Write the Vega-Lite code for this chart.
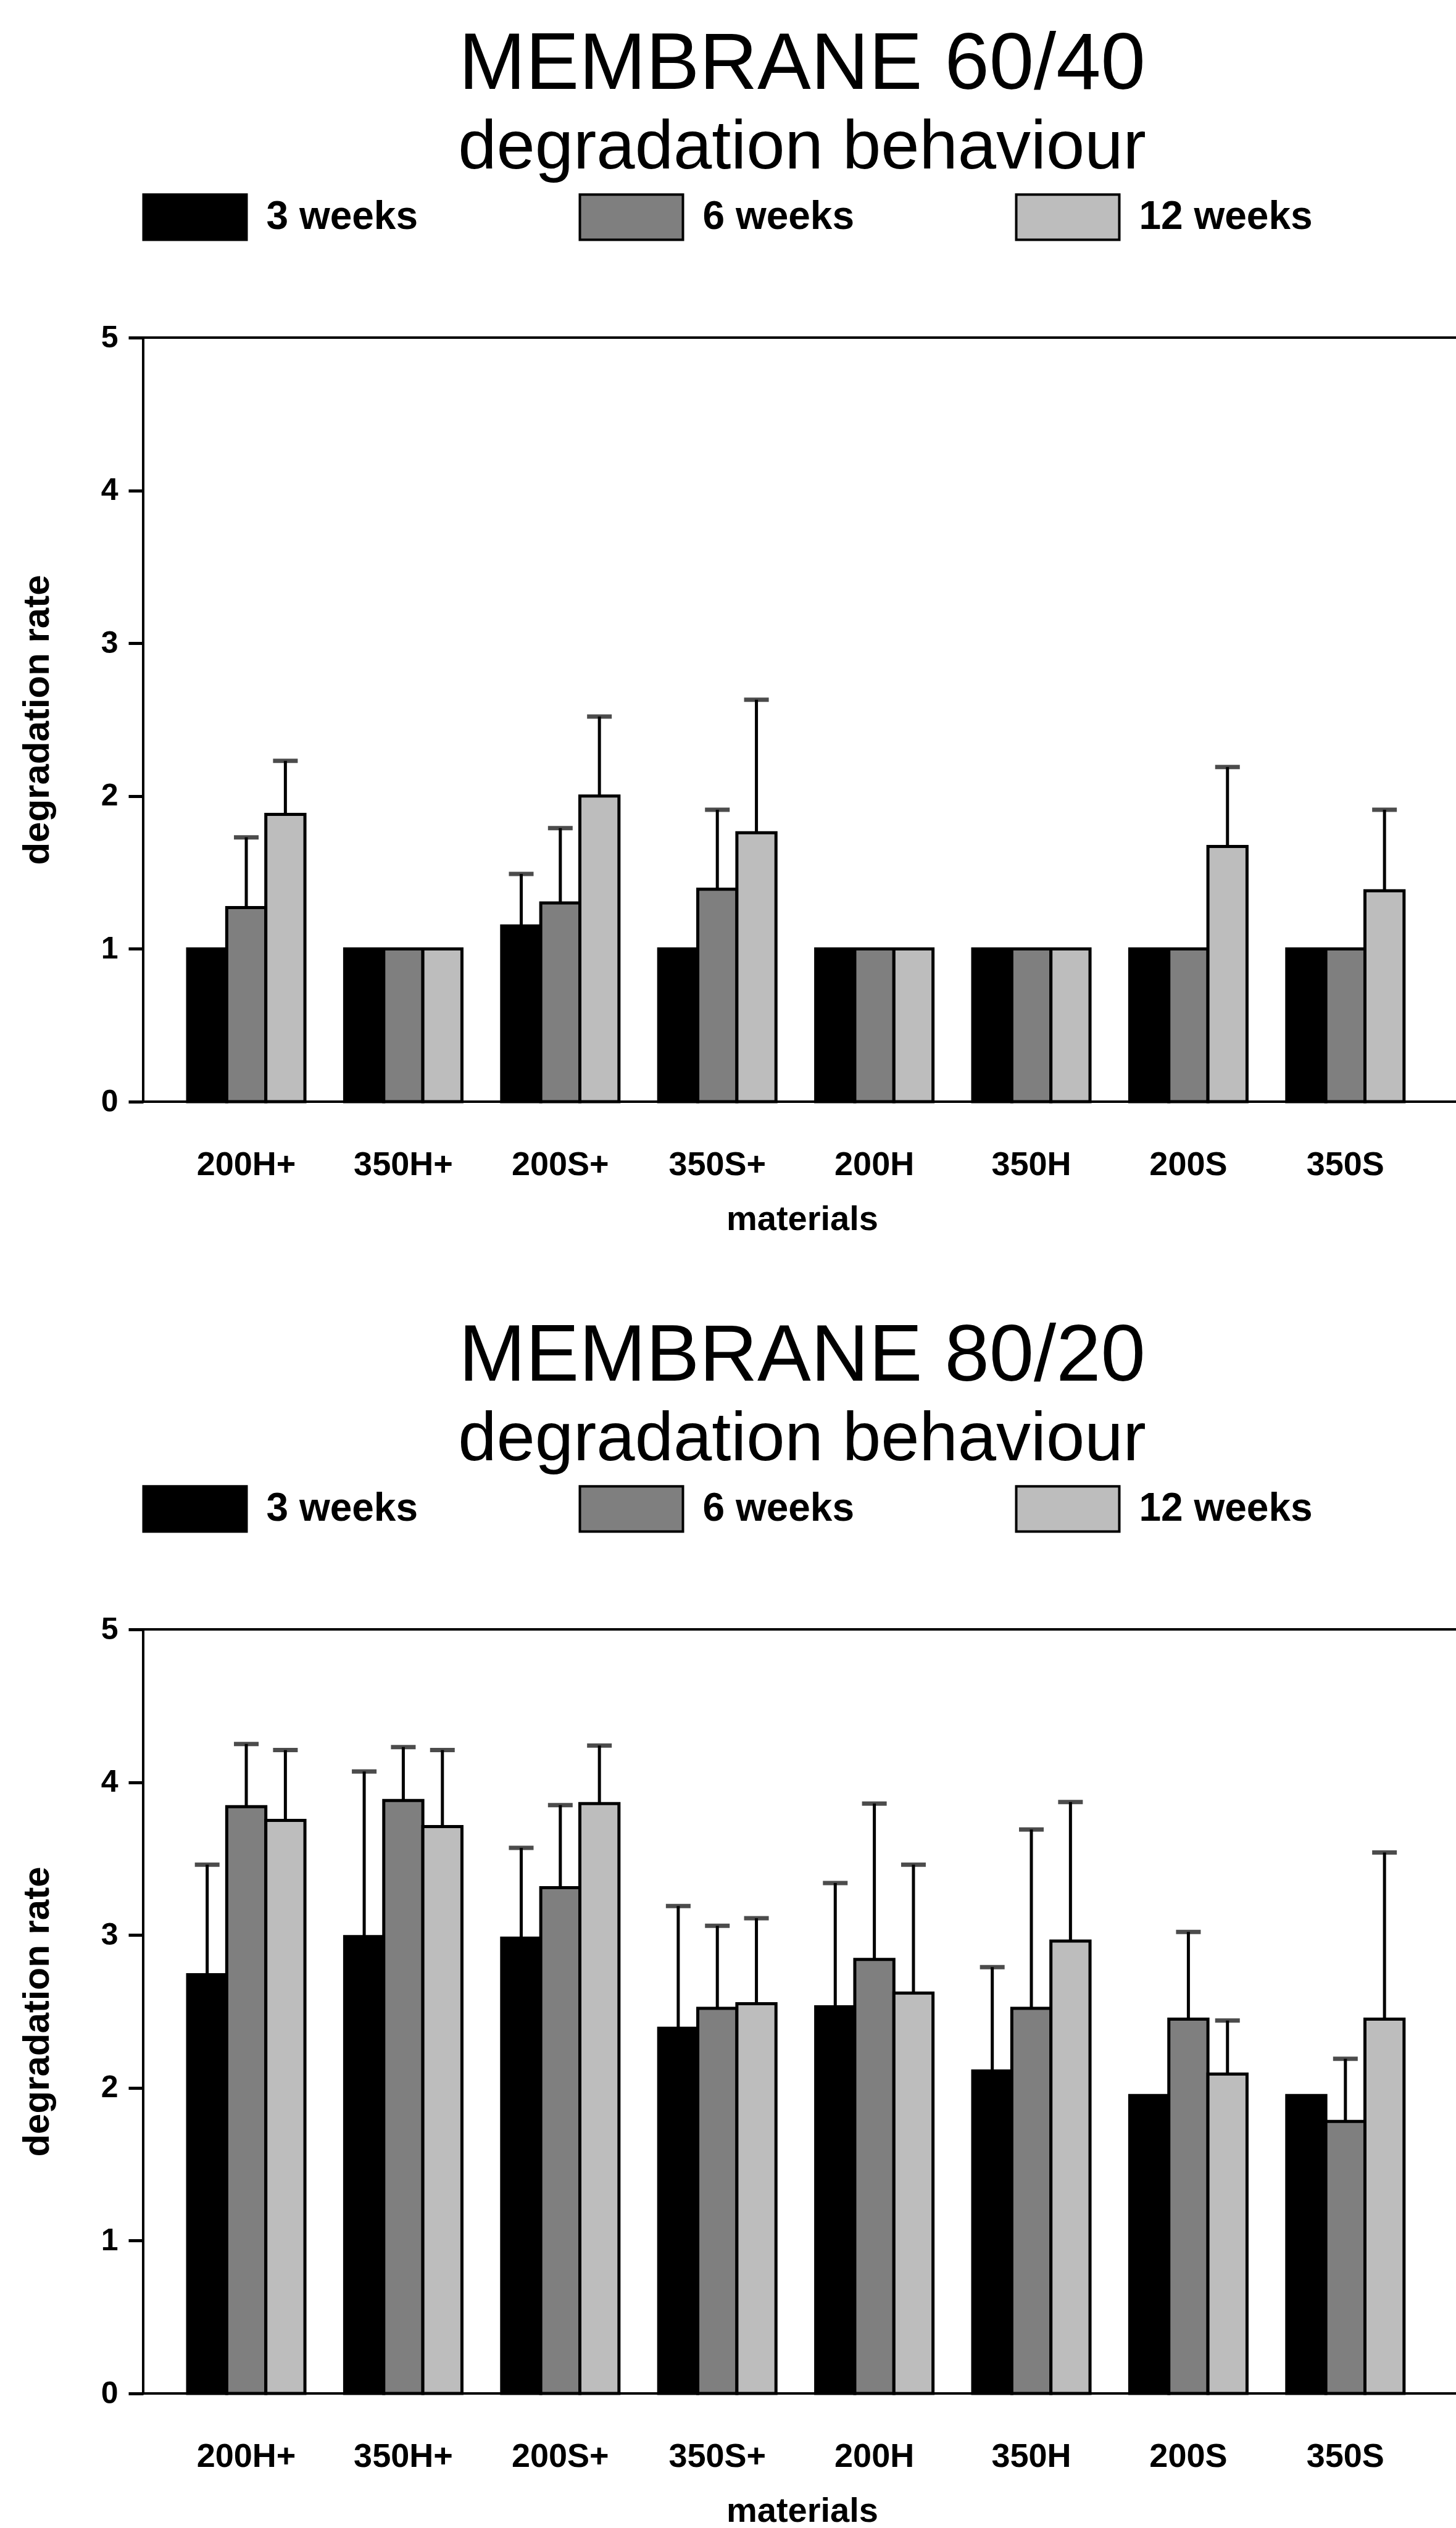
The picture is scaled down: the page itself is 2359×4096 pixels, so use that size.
{
  "$schema": "https://vega.github.io/schema/vega-lite/v6.json",
  "background": "white",
  "padding": {"left": 28, "top": 38, "right": 0, "bottom": 0},
  "spacing": 126,
  "config": {
    "font": "Liberation Sans",
    "view": {"stroke": "black", "strokeWidth": 4},
    "title": {
      "font": "Liberation Sans", "fontSize": 130, "fontWeight": "normal", "color": "black",
      "subtitleFont": "Liberation Sans", "subtitleFontSize": 112, "subtitleFontWeight": "normal", "subtitleColor": "black",
      "subtitlePadding": 14, "anchor": "middle", "offset": 20
    },
    "axisX": {"ticks": false, "tickSize": 0, "domain": false, "grid": false, "labelAngle": 0, "labelFontSize": 54, "labelFontWeight": "bold", "labelColor": "black", "labelPadding": 75, "titleFontSize": 56, "titleFontWeight": "bold", "titleColor": "black", "titlePadding": 34},
    "axisY": {"ticks": true, "tickSize": 24, "tickWidth": 5, "tickColor": "black", "tickOpacity": 1, "domain": false, "grid": false, "labelFontSize": 50, "labelFontWeight": "bold", "labelColor": "black", "labelPadding": 17, "titleFontSize": 60, "titleFontWeight": "bold", "titleColor": "black", "titlePadding": 72}
  },
  "datasets": {
    "m6040": [
      {"material": "200H+", "weeks": "3 weeks", "value": 1.0, "err": null},
      {"material": "200H+", "weeks": "6 weeks", "value": 1.27, "err": 1.73},
      {"material": "200H+", "weeks": "12 weeks", "value": 1.88, "err": 2.23},
      {"material": "350H+", "weeks": "3 weeks", "value": 1.0, "err": null},
      {"material": "350H+", "weeks": "6 weeks", "value": 1.0, "err": null},
      {"material": "350H+", "weeks": "12 weeks", "value": 1.0, "err": null},
      {"material": "200S+", "weeks": "3 weeks", "value": 1.15, "err": 1.49},
      {"material": "200S+", "weeks": "6 weeks", "value": 1.3, "err": 1.79},
      {"material": "200S+", "weeks": "12 weeks", "value": 2.0, "err": 2.52},
      {"material": "350S+", "weeks": "3 weeks", "value": 1.0, "err": null},
      {"material": "350S+", "weeks": "6 weeks", "value": 1.39, "err": 1.91},
      {"material": "350S+", "weeks": "12 weeks", "value": 1.76, "err": 2.63},
      {"material": "200H", "weeks": "3 weeks", "value": 1.0, "err": null},
      {"material": "200H", "weeks": "6 weeks", "value": 1.0, "err": null},
      {"material": "200H", "weeks": "12 weeks", "value": 1.0, "err": null},
      {"material": "350H", "weeks": "3 weeks", "value": 1.0, "err": null},
      {"material": "350H", "weeks": "6 weeks", "value": 1.0, "err": null},
      {"material": "350H", "weeks": "12 weeks", "value": 1.0, "err": null},
      {"material": "200S", "weeks": "3 weeks", "value": 1.0, "err": null},
      {"material": "200S", "weeks": "6 weeks", "value": 1.0, "err": null},
      {"material": "200S", "weeks": "12 weeks", "value": 1.67, "err": 2.19},
      {"material": "350S", "weeks": "3 weeks", "value": 1.0, "err": null},
      {"material": "350S", "weeks": "6 weeks", "value": 1.0, "err": null},
      {"material": "350S", "weeks": "12 weeks", "value": 1.38, "err": 1.91}
    ],
    "m8020": [
      {"material": "200H+", "weeks": "3 weeks", "value": 2.74, "err": 3.46},
      {"material": "200H+", "weeks": "6 weeks", "value": 3.84, "err": 4.25},
      {"material": "200H+", "weeks": "12 weeks", "value": 3.75, "err": 4.21},
      {"material": "350H+", "weeks": "3 weeks", "value": 2.99, "err": 4.07},
      {"material": "350H+", "weeks": "6 weeks", "value": 3.88, "err": 4.23},
      {"material": "350H+", "weeks": "12 weeks", "value": 3.71, "err": 4.21},
      {"material": "200S+", "weeks": "3 weeks", "value": 2.98, "err": 3.57},
      {"material": "200S+", "weeks": "6 weeks", "value": 3.31, "err": 3.85},
      {"material": "200S+", "weeks": "12 weeks", "value": 3.86, "err": 4.24},
      {"material": "350S+", "weeks": "3 weeks", "value": 2.39, "err": 3.19},
      {"material": "350S+", "weeks": "6 weeks", "value": 2.52, "err": 3.06},
      {"material": "350S+", "weeks": "12 weeks", "value": 2.55, "err": 3.11},
      {"material": "200H", "weeks": "3 weeks", "value": 2.53, "err": 3.34},
      {"material": "200H", "weeks": "6 weeks", "value": 2.84, "err": 3.86},
      {"material": "200H", "weeks": "12 weeks", "value": 2.62, "err": 3.46},
      {"material": "350H", "weeks": "3 weeks", "value": 2.11, "err": 2.79},
      {"material": "350H", "weeks": "6 weeks", "value": 2.52, "err": 3.69},
      {"material": "350H", "weeks": "12 weeks", "value": 2.96, "err": 3.87},
      {"material": "200S", "weeks": "3 weeks", "value": 1.95, "err": null},
      {"material": "200S", "weeks": "6 weeks", "value": 2.45, "err": 3.02},
      {"material": "200S", "weeks": "12 weeks", "value": 2.09, "err": 2.44},
      {"material": "350S", "weeks": "3 weeks", "value": 1.95, "err": null},
      {"material": "350S", "weeks": "6 weeks", "value": 1.78, "err": 2.19},
      {"material": "350S", "weeks": "12 weeks", "value": 2.45, "err": 3.54}
    ]
  },
  "resolve": {"scale": {"color": "independent"}, "legend": {"color": "independent"}},
  "vconcat": [
    {
      "title": {"text": "MEMBRANE 60/40", "subtitle": "degradation behaviour"},
      "width": 2135, "height": 1238,
      "data": {"name": "m6040"},
      "encoding": {
        "x": {"field": "material", "type": "nominal", "sort": ["200H+", "350H+", "200S+", "350S+", "200H", "350H", "200S", "350S"], "scale": {"paddingInner": 0.253, "paddingOuter": 0.3227, "align": 0.4386}, "title": "materials"},
        "xOffset": {"field": "weeks", "type": "nominal", "sort": ["3 weeks", "6 weeks", "12 weeks"], "scale": {"paddingInner": 0, "paddingOuter": 0}},
        "y": {"field": "value", "type": "quantitative", "scale": {"domain": [0, 5], "nice": false}, "axis": {"values": [0, 1, 2, 3, 4, 5], "format": "d", "ticks": true, "tickSize": 24, "tickColor": "black", "tickWidth": 5, "zindex": 2}, "title": "degradation rate"}
      },
      "layer": [
        {
          "mark": {"type": "bar", "stroke": "black", "strokeWidth": 5},
          "encoding": {
            "color": {"field": "weeks", "type": "nominal", "sort": ["3 weeks", "6 weeks", "12 weeks"],
              "scale": {"domain": ["3 weeks", "6 weeks", "12 weeks"], "range": ["#000000", "#7f7f7f", "#bdbdbd"]},
              "legend": {"orient": "none", "legendX": 0, "legendY": -231, "direction": "horizontal", "columns": 3, "gridAlign": "all", "columnPadding": 218, "title": null, "symbolType": "M-2.5,-1.1H2.5V1.1H-2.5Z", "symbolSize": 4462, "symbolOffset": 48.5, "symbolStrokeColor": "black", "symbolStrokeWidth": 4, "symbolOpacity": 1, "labelFontSize": 64, "labelFontWeight": "bold", "labelColor": "black", "labelOffset": 80, "labelLimit": 1000, "padding": 0}}
          }
        },
        {
          "transform": [{"filter": "isValid(datum.err)"}],
          "mark": {"type": "rule", "color": "black", "strokeWidth": 5},
          "encoding": {"y2": {"field": "err"}}
        },
        {
          "transform": [{"filter": "isValid(datum.err)"}],
          "mark": {"type": "tick", "color": "black", "thickness": 7, "size": 40, "orient": "horizontal"},
          "encoding": {"y": {"field": "err", "type": "quantitative", "scale": {"domain": [0, 5], "nice": false}, "axis": {"values": [0, 1, 2, 3, 4, 5], "format": "d", "ticks": true, "tickSize": 24, "tickColor": "black", "tickWidth": 5, "zindex": 2}, "title": "degradation rate"}}
        }
      ]
    },
    {
      "title": {"text": "MEMBRANE 80/20", "subtitle": "degradation behaviour"},
      "width": 2135, "height": 1238,
      "data": {"name": "m8020"},
      "encoding": {
        "x": {"field": "material", "type": "nominal", "sort": ["200H+", "350H+", "200S+", "350S+", "200H", "350H", "200S", "350S"], "scale": {"paddingInner": 0.253, "paddingOuter": 0.3227, "align": 0.4386}, "title": "materials"},
        "xOffset": {"field": "weeks", "type": "nominal", "sort": ["3 weeks", "6 weeks", "12 weeks"], "scale": {"paddingInner": 0, "paddingOuter": 0}},
        "y": {"field": "value", "type": "quantitative", "scale": {"domain": [0, 5], "nice": false}, "axis": {"values": [0, 1, 2, 3, 4, 5], "format": "d", "ticks": true, "tickSize": 24, "tickColor": "black", "tickWidth": 5, "zindex": 2}, "title": "degradation rate"}
      },
      "layer": [
        {
          "mark": {"type": "bar", "stroke": "black", "strokeWidth": 5},
          "encoding": {
            "color": {"field": "weeks", "type": "nominal", "sort": ["3 weeks", "6 weeks", "12 weeks"],
              "scale": {"domain": ["3 weeks", "6 weeks", "12 weeks"], "range": ["#000000", "#7f7f7f", "#bdbdbd"]},
              "legend": {"orient": "none", "legendX": 0, "legendY": -231, "direction": "horizontal", "columns": 3, "gridAlign": "all", "columnPadding": 218, "title": null, "symbolType": "M-2.5,-1.1H2.5V1.1H-2.5Z", "symbolSize": 4462, "symbolOffset": 48.5, "symbolStrokeColor": "black", "symbolStrokeWidth": 4, "symbolOpacity": 1, "labelFontSize": 64, "labelFontWeight": "bold", "labelColor": "black", "labelOffset": 80, "labelLimit": 1000, "padding": 0}}
          }
        },
        {
          "transform": [{"filter": "isValid(datum.err)"}],
          "mark": {"type": "rule", "color": "black", "strokeWidth": 5},
          "encoding": {"y2": {"field": "err"}}
        },
        {
          "transform": [{"filter": "isValid(datum.err)"}],
          "mark": {"type": "tick", "color": "black", "thickness": 7, "size": 40, "orient": "horizontal"},
          "encoding": {"y": {"field": "err", "type": "quantitative", "scale": {"domain": [0, 5], "nice": false}, "axis": {"values": [0, 1, 2, 3, 4, 5], "format": "d", "ticks": true, "tickSize": 24, "tickColor": "black", "tickWidth": 5, "zindex": 2}, "title": "degradation rate"}}
        }
      ]
    }
  ]
}
